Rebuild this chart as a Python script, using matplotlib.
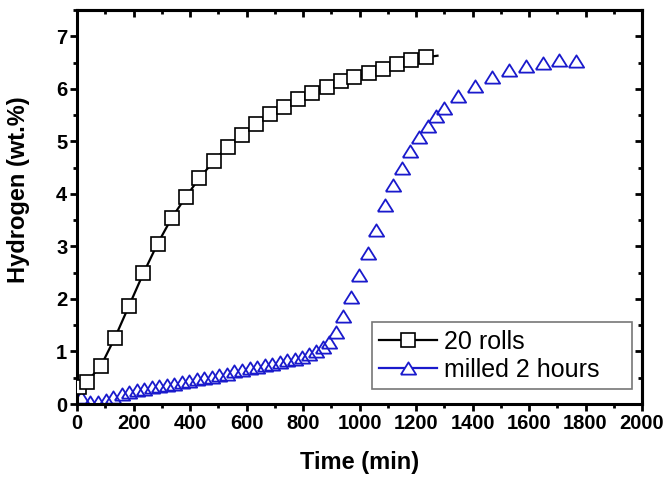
import numpy as np
import matplotlib.pyplot as plt
from matplotlib.lines import Line2D
from matplotlib.ticker import MultipleLocator

plt.rcParams['font.family'] = ['Liberation Sans', 'DejaVu Sans']

# 20 rolls
t_rolls = [7, 34, 84, 134, 184, 235, 285, 335, 385, 433, 484, 533, 584, 634, 683, 733,
           783, 833, 884, 933, 982, 1032, 1082, 1134, 1182, 1234, 1276]
h_rolls = [0.32, 0.42, 0.72, 1.26, 1.87, 2.49, 3.05, 3.54, 3.94, 4.30, 4.62, 4.90, 5.12,
           5.33, 5.52, 5.66, 5.81, 5.92, 6.04, 6.14, 6.23, 6.31, 6.37, 6.48, 6.55, 6.60, 6.63]

# milled 2 hours
t_milled = [13, 46, 75, 103, 129, 158, 185, 211, 237, 264, 291, 317, 343, 371, 398, 424,
            450, 477, 504, 530, 557, 584, 611, 638, 664, 691, 718, 744, 770, 795, 820, 845,
            870, 893, 915, 940, 969, 999, 1029, 1058, 1089, 1120, 1149, 1179, 1209, 1241,
            1271, 1300, 1349, 1409, 1470, 1529, 1589, 1648, 1707, 1766]
h_milled = [0.14, 0.03, 0.04, 0.08, 0.13, 0.19, 0.23, 0.27, 0.29, 0.32, 0.34, 0.37, 0.39,
            0.41, 0.44, 0.47, 0.49, 0.52, 0.55, 0.58, 0.62, 0.65, 0.68, 0.71, 0.74, 0.77,
            0.80, 0.83, 0.86, 0.90, 0.95, 1.01, 1.08, 1.18, 1.38, 1.68, 2.03, 2.46, 2.87,
            3.31, 3.78, 4.17, 4.50, 4.81, 5.09, 5.30, 5.49, 5.63, 5.87, 6.06, 6.22, 6.36,
            6.44, 6.49, 6.55, 6.52]

blue = '#1a1acc'
tri = [(-1, -0.8), (1, -0.8), (0, 0.8), (-1, -0.8)]  # flattish open triangle

fig = plt.figure(figsize=(6.71, 4.86), dpi=100)
ax = fig.add_axes([0.1148, 0.1687, 0.842, 0.8107])

ax.plot(t_rolls, h_rolls, '-', color='black', lw=1.6, marker='s', ms=10,
        mfc='white', mec='black', mew=1.2, markevery=slice(0, len(t_rolls) - 1), zorder=3)
ax.plot(t_milled, h_milled, ls='none', marker=tri, ms=11, mfc='none', mec=blue,
        mew=1.3, zorder=2)

ax.set_xlim(0, 2000)
ax.set_ylim(0, 7.5)
ax.xaxis.set_major_locator(MultipleLocator(200))
ax.xaxis.set_minor_locator(MultipleLocator(100))
ax.yaxis.set_major_locator(MultipleLocator(1))
ax.yaxis.set_minor_locator(MultipleLocator(0.5))

for s in ax.spines.values():
    s.set_linewidth(2.2)
ax.tick_params(which='both', direction='out', width=2, labelsize=14.5, pad=2)
ax.tick_params(which='major', length=5)
ax.tick_params(which='minor', length=3)
for lab in ax.get_xticklabels() + ax.get_yticklabels():
    lab.set_fontweight('bold')

# mirrored ticks pointing inward on top and right
top = ax.secondary_xaxis('top')
top.xaxis.set_major_locator(MultipleLocator(200))
top.xaxis.set_minor_locator(MultipleLocator(100))
top.tick_params(which='both', direction='in', width=2, labeltop=False)
top.tick_params(which='major', length=5)
top.tick_params(which='minor', length=3)
top.spines['top'].set_linewidth(2.2)
right = ax.secondary_yaxis('right')
right.yaxis.set_major_locator(MultipleLocator(1))
right.yaxis.set_minor_locator(MultipleLocator(0.5))
right.tick_params(which='both', direction='in', width=2, labelright=False)
right.tick_params(which='major', length=5)
right.tick_params(which='minor', length=3)
right.spines['right'].set_linewidth(2.2)

ax.set_xlabel('Time (min)', fontsize=17, fontweight='bold')
ax.set_ylabel('Hydrogen (wt.%)', fontsize=17, fontweight='bold')
ax.xaxis.set_label_coords(0.5, -0.118)
ax.yaxis.set_label_coords(-0.083, 0.545)

handles = [
    Line2D([], [], color='black', lw=1.6, marker='s', ms=10, mfc='white', mec='black', mew=1.2),
    Line2D([], [], color=blue, lw=1.6, marker=tri, ms=11, mfc='white', mec=blue, mew=1.3),
]
leg = ax.legend(handles, ['20 rolls', 'milled 2 hours'], loc='lower left',
                bbox_to_anchor=(0.522, 0.038, 0.460, 0.1), mode='expand',
                borderaxespad=0, fontsize=18, fancybox=False, handlelength=2.3,
                handletextpad=0.3, labelspacing=0.15, borderpad=0.3)
leg.get_frame().set_edgecolor('#555555')
leg.get_frame().set_linewidth(1.2)

fig.savefig('out.png', dpi=100)
